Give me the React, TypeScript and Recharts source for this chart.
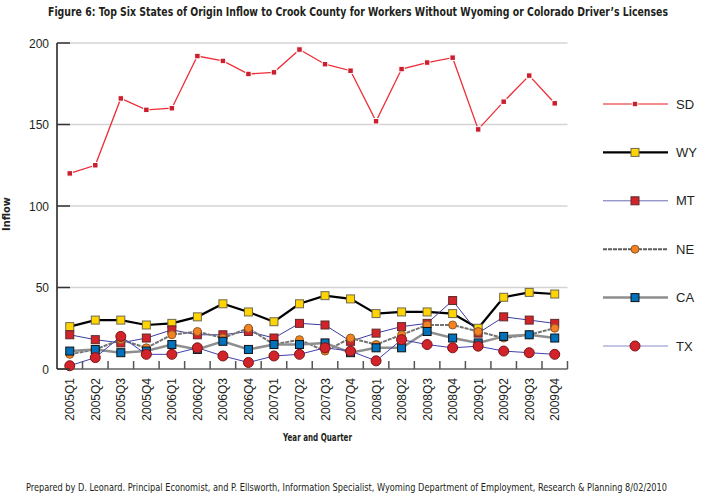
import React from 'react';
import { LineChart, Line, XAxis, YAxis, CartesianGrid, Legend } from 'recharts';

// Quarterly inflow of workers by state of origin
const quarters = [
  '2005Q1', '2005Q2', '2005Q3', '2005Q4',
  '2006Q1', '2006Q2', '2006Q3', '2006Q4',
  '2007Q1', '2007Q2', '2007Q3', '2007Q4',
  '2008Q1', '2008Q2', '2008Q3', '2008Q4',
  '2009Q1', '2009Q2', '2009Q3', '2009Q4',
];
const sdInflow = [120, 125, 166, 159, 160, 192, 189, 181, 182, 196, 187, 183, 152, 184, 188, 191, 147, 164, 180, 163];
const wyInflow = [26, 30, 30, 27, 28, 32, 40, 35, 29, 40, 45, 43, 34, 35, 35, 34, 25, 44, 47, 46];
const mtInflow = [21, 18, 16, 19, 24, 21, 21, 23, 19, 28, 27, 17, 22, 26, 28, 42, 22, 32, 30, 28];
const neInflow = [9, 12, 18, 13, 21, 23, 19, 25, 15, 18, 11, 19, 15, 21, 27, 27, 23, 19, 21, 25];
const caInflow = [11, 12, 10, 11, 15, 12, 17, 12, 15, 15, 16, 10, 13, 13, 23, 19, 16, 20, 21, 19];
const txInflow = [2, 7, 20, 9, 9, 13, 8, 4, 8, 9, 13, 11, 5, 18, 15, 13, 14, 11, 10, 9];

const yTicks = [0, 50, 100, 150, 200];

const WIDTH = 714;
const HEIGHT = 504;
const PLOT = { left: 57, right: 567.5, top: 43, bottom: 369 };
const HALF_BAND = (PLOT.right - PLOT.left) / quarters.length / 2;

const FONT = '"Liberation Sans", Arial, sans-serif';
const NARROW = '"DejaVu Sans Condensed", "Liberation Sans", sans-serif';
const INK = '#231f20';

type SeriesStyle = {
  key: string;
  values: number[];
  stroke: string;
  legendStroke?: string;
  strokeWidth: number;
  dash?: string;
  marker: 'square' | 'circle';
  fill: string;
  outline: string;
  size: number;
};

const series: SeriesStyle[] = [
  { key: 'SD', values: sdInflow, stroke: '#ee2b36', legendStroke: '#f0646c', strokeWidth: 1.3, marker: 'square', fill: '#cc1f2d', outline: '#ffffff', size: 5.5 },
  { key: 'WY', values: wyInflow, stroke: '#000000', strokeWidth: 2.2, marker: 'square', fill: '#ffd400', outline: '#6e6a50', size: 8 },
  { key: 'MT', values: mtInflow, stroke: '#3c3ca2', legendStroke: '#6c6cb4', strokeWidth: 1, marker: 'square', fill: '#d2232a', outline: '#5e2b2b', size: 8 },
  { key: 'NE', values: neInflow, stroke: '#747474', legendStroke: '#5e5e5e', strokeWidth: 2, dash: '4 1', marker: 'circle', fill: '#f58220', outline: '#8c5a2c', size: 8 },
  { key: 'CA', values: caInflow, stroke: '#8e8e8e', strokeWidth: 2.5, marker: 'square', fill: '#0072bc', outline: '#111111', size: 8 },
  { key: 'TX', values: txInflow, stroke: '#4040ae', legendStroke: '#8a8acb', strokeWidth: 1, marker: 'circle', fill: '#d2232a', outline: '#7a1414', size: 10 },
];

const data = quarters.map((quarter, i) => {
  const row: Record<string, string | number> = { quarter };
  series.forEach((s) => {
    row[s.key] = s.values[i];
  });
  return row;
});

function drawMarker(s: SeriesStyle, cx: number, cy: number, key?: string) {
  const half = s.size / 2;
  if (s.marker === 'circle') {
    return <circle key={key} cx={cx} cy={cy} r={half} fill={s.fill} stroke={s.outline} strokeWidth={1} />;
  }
  return (
    <rect key={key} x={cx - half} y={cy - half} width={s.size} height={s.size} fill={s.fill} stroke={s.outline} strokeWidth={1} />
  );
}

// quarter labels run bottom-to-top, tick marks sit between quarters and point inward
const QuarterTick = ({ x, y, payload }: any) => (
  <g>
    <line x1={x + HALF_BAND} y1={y} x2={x + HALF_BAND} y2={y - 8} stroke="#555" strokeWidth={1.5} />
    <text
      transform={`translate(${x + 4.5},${y + 9}) rotate(-90)`}
      textAnchor="end"
      fontSize={12}
      fontFamily={FONT}
      fill={INK}
    >
      {payload.value}
    </text>
  </g>
);

const ValueTick = ({ x, y, payload }: any) => (
  <g>
    <line x1={x} y1={y} x2={x + 13} y2={y} stroke="#333" strokeWidth={1.5} />
    <text x={x - 8} y={y + 4.5} textAnchor="end" fontSize={12} fontFamily={FONT} fill={INK}>
      {payload.value}
    </text>
  </g>
);

const LegendRows = () => (
  <svg width={120} height={260} style={{ display: 'block' }}>
    {series.map((s, i) => {
      const y = 10 + i * 48.4;
      return (
        <g key={s.key}>
          <line
            x1={3}
            x2={68}
            y1={y}
            y2={y}
            stroke={s.legendStroke ?? s.stroke}
            strokeWidth={s.strokeWidth}
            strokeDasharray={s.dash}
          />
          {drawMarker(s, 35, y)}
          <text x={76} y={y + 4.5} fontSize={13} fontFamily={FONT} fill={INK}>
            {s.key}
          </text>
        </g>
      );
    })}
  </svg>
);

// condensed caption: natural width squeezed horizontally to the given span
const Caption = ({ x, y, natural, span, size, bold, children }: any) => (
  <text
    transform={`translate(${x},${y}) scale(${span / natural},1)`}
    textLength={natural}
    lengthAdjust="spacingAndGlyphs"
    fontSize={size}
    fontWeight={bold ? 'bold' : 'normal'}
    fontFamily={NARROW}
    fill={INK}
  >
    {children}
  </text>
);

export default function App() {
  return (
    <div style={{ position: 'absolute', left: 0, top: 0, width: WIDTH, height: HEIGHT, background: '#fff' }}>
      <LineChart
        width={WIDTH}
        height={HEIGHT}
        data={data}
        margin={{ top: PLOT.top, right: WIDTH - PLOT.right, bottom: HEIGHT - PLOT.bottom - 50, left: PLOT.left - 50 }}
      >
        <CartesianGrid vertical={false} stroke="#d4d4d4" strokeWidth={1.3} />
        <XAxis
          dataKey="quarter"
          scale="band"
          interval={0}
          height={50}
          tickSize={0}
          tickMargin={0}
          tickLine={false}
          axisLine={{ stroke: '#8a8a8a', strokeWidth: 2 }}
          tick={(props: any) => <QuarterTick {...props} />}
        />
        <YAxis
          width={50}
          domain={[0, 200]}
          ticks={yTicks}
          interval={0}
          tickSize={0}
          tickMargin={0}
          tickLine={false}
          axisLine={{ stroke: '#1a1a1a', strokeWidth: 1.5 }}
          tick={(props: any) => <ValueTick {...props} />}
        />
        <Legend
          layout="vertical"
          align="center"
          verticalAlign="middle"
          content={() => <LegendRows />}
          wrapperStyle={{ left: 600, top: 94, width: 120, height: 260 }}
        />
        {series.map((s) => (
          <Line
            key={s.key}
            dataKey={s.key}
            type="linear"
            stroke={s.stroke}
            strokeWidth={s.strokeWidth}
            strokeDasharray={s.dash}
            dot={(p: any) => drawMarker(s, p.cx, p.cy, `${s.key}-${p.index}`)}
            activeDot={false}
            isAnimationActive={false}
          />
        ))}
      </LineChart>
      <svg width={WIDTH} height={HEIGHT} style={{ position: 'absolute', left: 0, top: 0, pointerEvents: 'none' }}>
        <Caption x={48} y={16} natural={744} span={620} size={12.5} bold>
          Figure 6: Top Six States of Origin Inflow to Crook County for Workers Without Wyoming or Colorado Driver’s Licenses
        </Caption>
        <text
          transform="translate(10,214) rotate(-90)"
          textAnchor="middle"
          fontSize={11}
          fontWeight="bold"
          fontFamily={NARROW}
          fill={INK}
        >
          Inflow
        </text>
        <Caption x={283} y={441} natural={90} span={69} size={11} bold>
          Year and Quarter
        </Caption>
        <Caption x={26} y={491} natural={774} span={641} size={11}>
          Prepared by D. Leonard. Principal Economist, and P. Ellsworth, Information Specialist, Wyoming Department of Employment, Research &amp; Planning 8/02/2010
        </Caption>
      </svg>
    </div>
  );
}
